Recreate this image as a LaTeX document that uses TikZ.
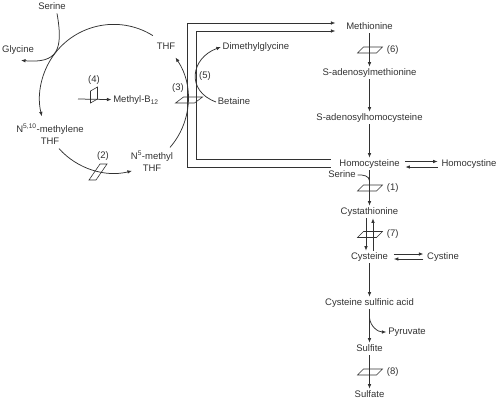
\documentclass[tikz,border=0pt]{standalone}
\usepackage{fontspec}
\setmainfont{Liberation Sans}
\usepackage{tikz}
\definecolor{ink}{RGB}{50,50,50}
\usetikzlibrary{arrows.meta}

\begin{document}
\begin{tikzpicture}[x=1pt, y=1pt, color=ink, line width=.75pt,
				>={Latex[length=4.5pt,width=3.6pt]},   %arrow tips
				met/.style={font=\fontsize{9.5}{12}\selectfont, inner sep=1.5pt, text height=7pt, text depth=2pt},
				met2/.style={font=\fontsize{9.5}{12}\selectfont, inner sep=1.5pt, align=center},
				lbl/.style={font=\fontsize{9.5}{12}\selectfont, inner sep=1pt},
				enz/.style={line width=.6pt},
				dbl/.style={line width=.65pt}]
				\useasboundingbox (0,0) rectangle (500,-402);
				% folate cycle
				\node[met] (ser1) at (52,-7) {Serine};
				\node[met] (gly) at (18,-50) {Glycine};
				\node[met] (thf) at (166,-47) {THF};
				\node[met2] (m510) at (50,-134) {N\textsuperscript{5,10}-methylene\\THF};
				\node[met2] (m5) at (152,-161) {N\textsuperscript{5}-methyl\\THF};
				\node[met] (b12) at (136,-100) {Methyl-B\textsubscript{12}};
				\coordinate (s4) at (78,-99);
				\draw[->] ([xshift=5pt]ser1.south) to[out=-80, in=-5, looseness=1.6] ([shift={(3,-4)}]gly.south);
				\draw[->] (thf.north west) ++(-2,5) arc[start angle=58, end angle=194, radius=74];
				\draw[->] (m510.south) ++(9,-2.5) arc[start angle=222, end angle=284, radius=74];
				\draw[->] (m5.north east) ++(-5,1.5) arc[start angle=-41, end angle=34, radius=74];
				\draw[->] (s4) -- (b12);
				% enzymes (2), (3), (4)
				\draw[enz] (94,-95) ++(-3.5,-8) -- ++(0,12) -- ++(7,4) -- ++(0,-12) -- cycle;
				\node[lbl] (l4) at (94,-80) {(4)};
				\draw[enz] (98,-172) ++(-9,-8) -- ++(7,0) -- ++(11,16) -- ++(-7,0) -- cycle;
				\node[lbl] (l2) at (103,-156) {(2)};
				\draw[enz] (188.5,-100) ++(-13,-3) -- ++(8,6) -- ++(19,0) -- ++(-8,-6) -- cycle;
				\node[lbl] (l3) at (178,-88) {(3)};
				% betaine
				\node[met] (bet) at (234,-102) {Betaine};
				\node[met] (dmg) at (256,-47) {Dimethylglycine};
				\draw[->] (bet.west) to[out=160, in=200, looseness=1.5] (dmg.west);
				\node[lbl] (l5) at (205,-76) {(5)};
				% main pathway
				\node[met] (met) at (369.5,-27) {Methionine};
				\node[met] (sam) at (369.5,-73) {S-adenosylmethionine};
				\node[met] (sah) at (369.5,-118) {S-adenosylhomocysteine};
				\node[met] (hcy) at (369.5,-164) {Homocysteine};
				\node[met] (hcys) at (469,-164) {Homocystine};
				\node[met] (ser2) at (342,-175) {Serine};
				\node[met] (cth) at (369.5,-212) {Cystathionine};
				\node[met] (cys) at (369.5,-257) {Cysteine};
				\node[met] (cyst) at (443,-257) {Cystine};
				\node[met] (csa) at (369.5,-303) {Cysteine sulfinic acid};
				\node[met] (pyr) at (407,-332) {Pyruvate};
				\node[met] (sfi) at (369.5,-349) {Sulfite};
				\node[met] (sfa) at (369.5,-395) {Sulfate};
				\draw[->] (met) -- coordinate[midway] (e6) (sam);
				\draw[->] (sam) -- (sah);
				\draw[->] (sah) -- (hcy);
				\draw[->] (hcy) -- coordinate[pos=.3] (j1) coordinate[midway] (e1) (cth);
				\draw (ser2.east) to[out=5, in=90] (j1);
				\draw[->] ([xshift=-3.5pt]cth.south) -- ([xshift=-3.5pt]cys.north);
				\draw[->] ([xshift=3.5pt]cys.north) -- ([xshift=3.5pt]cth.south);
				\path (cth) -- coordinate[midway] (e7) (cys);
				\draw[->] (cys) -- (csa);
				\draw[->] (csa) -- coordinate[pos=.25] (j2) (sfi);
				\draw[->] (j2) to[out=-85, in=180] (pyr);
				\draw[->] (sfi) -- coordinate[midway] (e8) (sfa);
				% reversible steps
				\draw[->] ([shift={(4,2.5)}]hcy.east) -- ([shift={(-2,2.5)}]hcys.west);
				\draw[->] ([shift={(-2,-3)}]hcys.west) -- ([shift={(4,-3)}]hcy.east);
				\draw[->] ([shift={(4,3)}]cys.east) -- ([shift={(-2,3)}]cyst.west);
				\draw[->] ([shift={(-2,-2)}]cyst.west) -- ([shift={(4,-2)}]cys.east);
				% methyl transfer to methionine
				\draw[dbl,->] ([shift={(-7,-3)}]hcy.west) -| (187,-23) -- ([shift={(-9,4)}]met.west);
				\draw[dbl,->] ([shift={(-7,5)}]hcy.west) -| (196,-31) -- ([shift={(-9,-4)}]met.west);
				% enzymes (6), (1), (7), (8)
				\foreach \e/\n in {e6/6, e1/1, e7/7, e8/8} {
					\draw[enz] (\e) ++(-12,-3) -- ++(6,6) -- ++(19,0) -- ++(-6,-6) -- cycle;
					\node[lbl, anchor=west] (l\n) at ([xshift=16pt]\e) {(\n)};
				}
			\end{tikzpicture}
\end{document}
